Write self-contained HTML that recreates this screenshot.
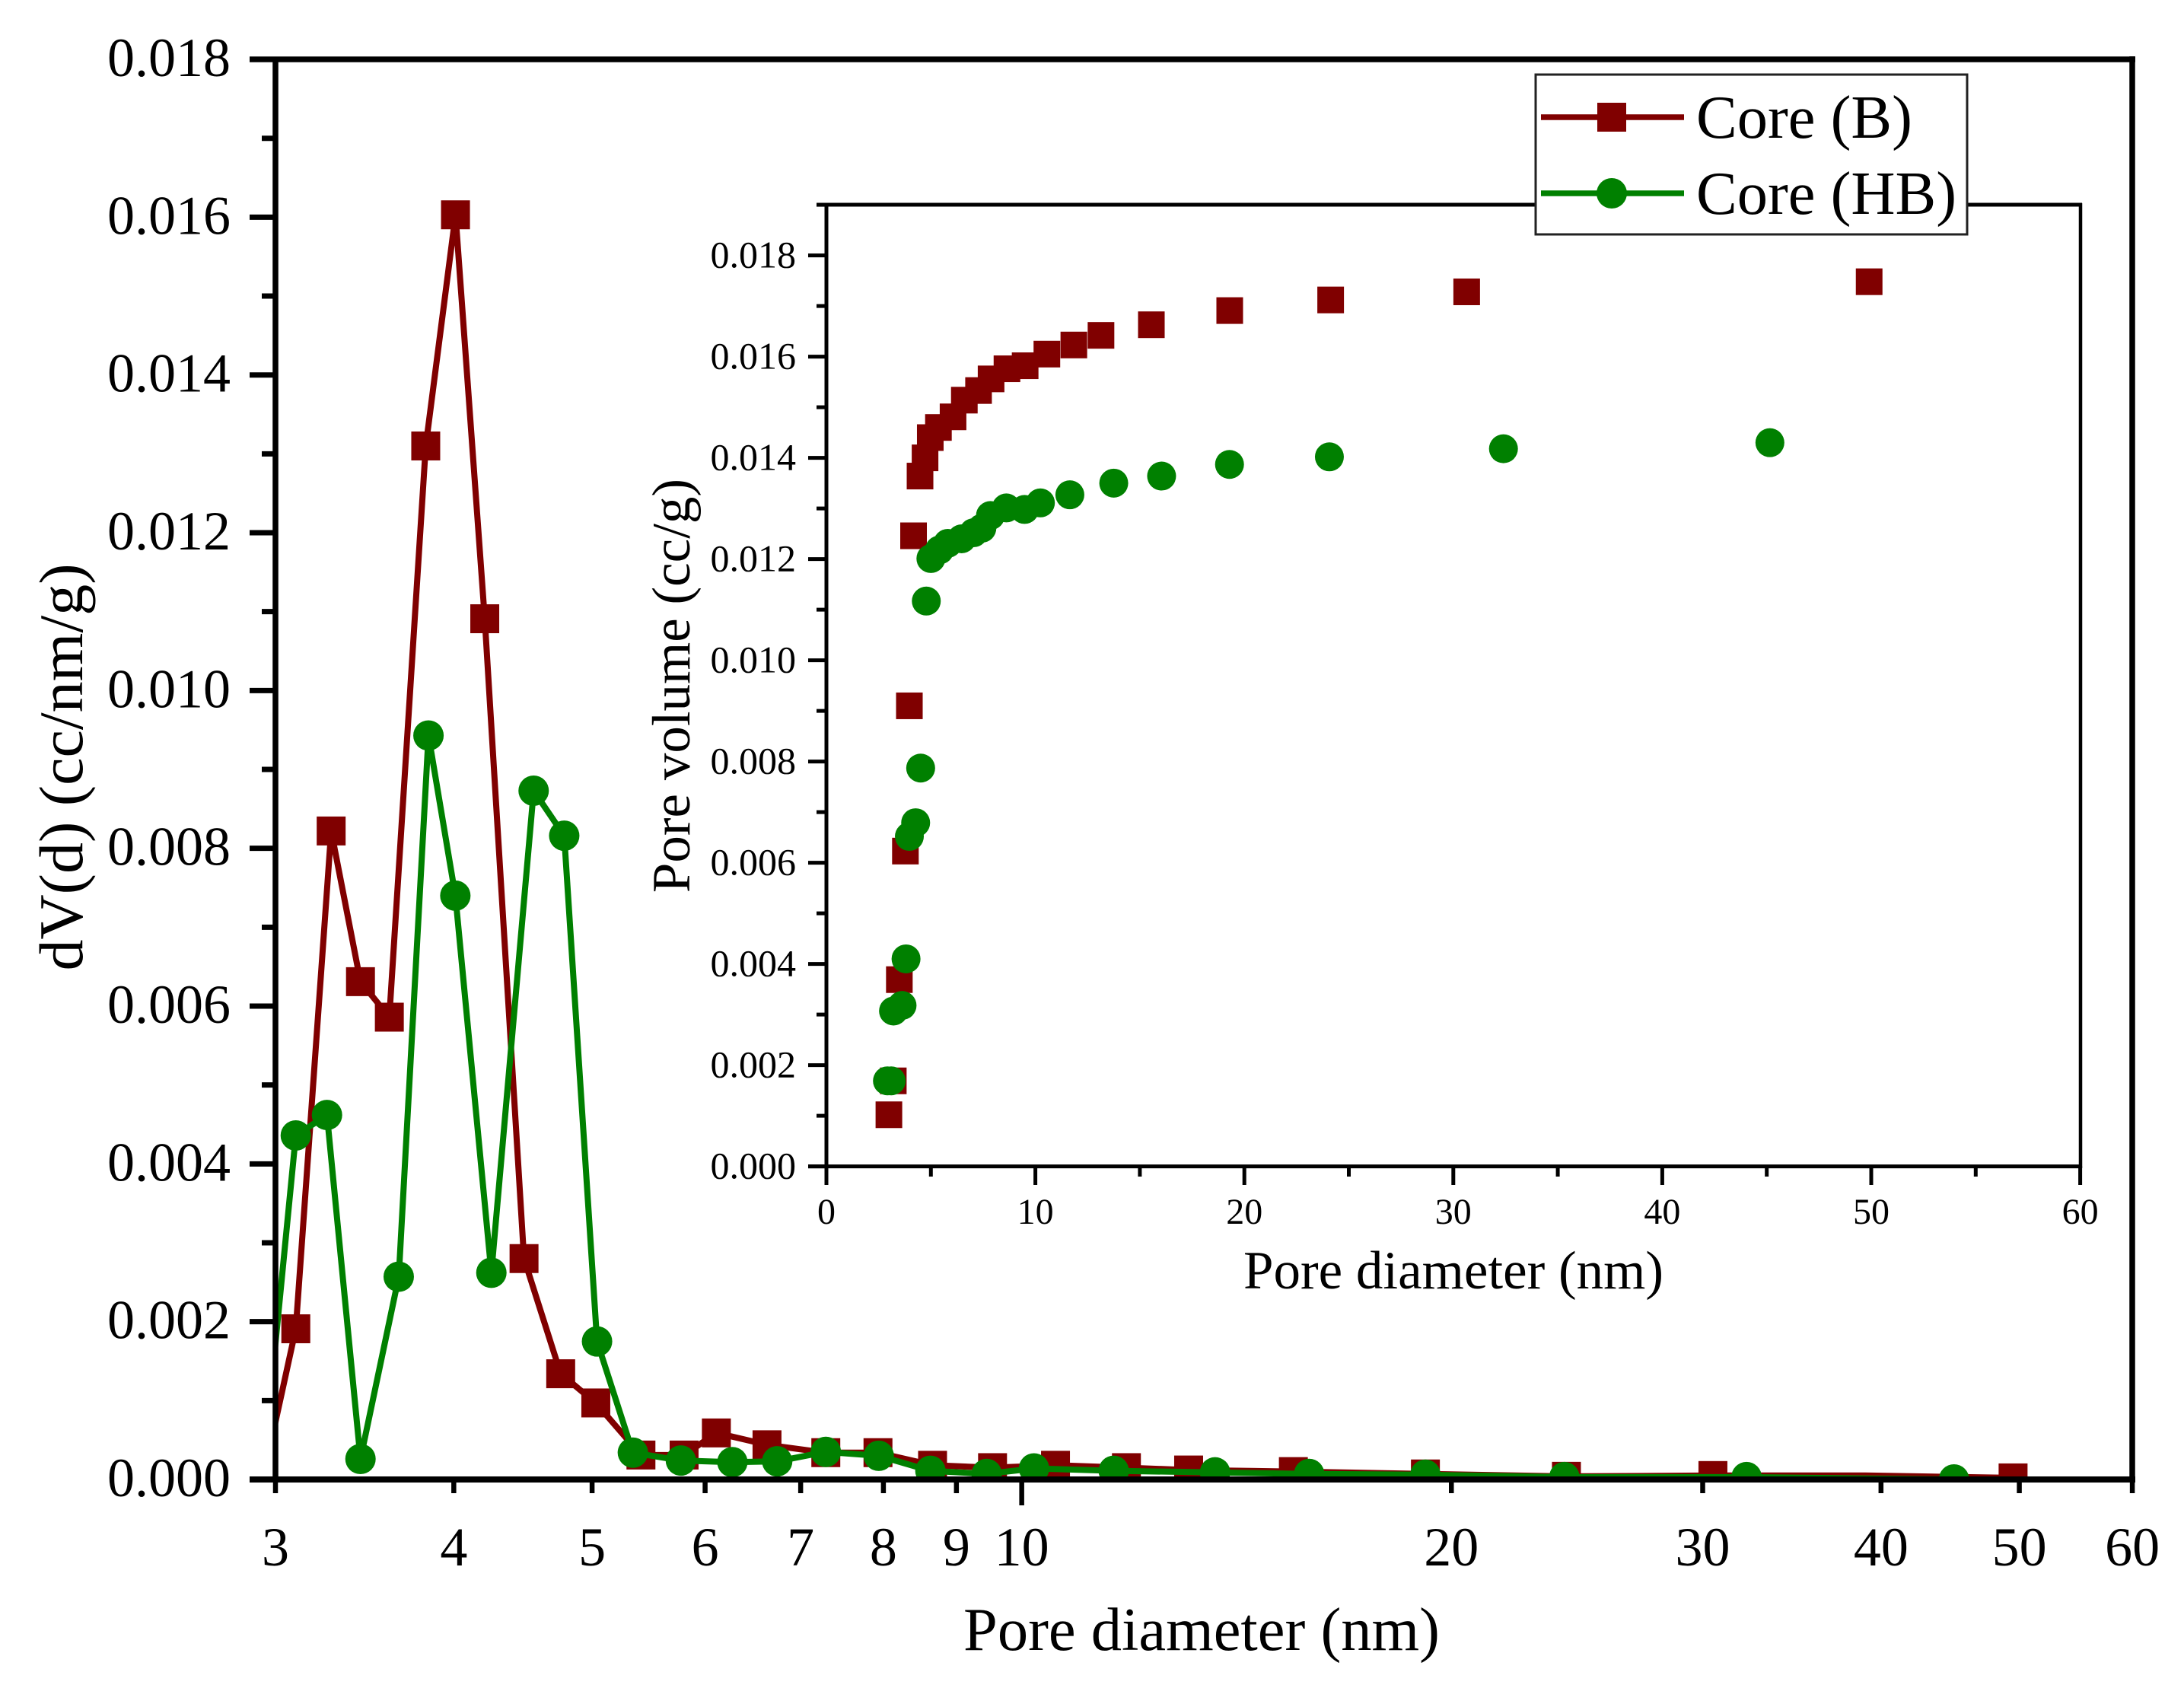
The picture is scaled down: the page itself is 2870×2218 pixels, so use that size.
<!DOCTYPE html>
<html lang="en">
<head>
<meta charset="utf-8">
<title>Pore size distribution chart</title>
<style>
html,body{margin:0;padding:0;background:#fff;}
svg{display:block;}
text{font-family:"Liberation Serif",serif;fill:#000;}
</style>
</head>
<body>
<svg id="chart" xmlns="http://www.w3.org/2000/svg" width="2870" height="2218" viewBox="0 0 2870 2218">
  <rect x="0" y="0" width="2870" height="2218" fill="#fff"/>
  <defs>
    <clipPath id="main-clip"><rect x="362" y="78" width="2440" height="1866"/></clipPath>
    <clipPath id="inset-clip"><rect x="1086" y="269" width="1648" height="1264"/></clipPath>
  </defs>
  <g id="main-series" clip-path="url(#main-clip)"></g>
  <g id="main-axes"></g>
  <text x="1579" y="2168" font-size="80.5" text-anchor="middle">Pore diameter (nm)</text>
  <text transform="translate(108 1008) rotate(-90)" font-size="82" text-anchor="middle">dV(d) (cc/nm/g)</text>
  <g id="inset-series" clip-path="url(#inset-clip)"></g>
  <g id="inset-axes"></g>
  <text x="1910" y="1693" font-size="71" text-anchor="middle">Pore diameter (nm)</text>
  <text transform="translate(906 901) rotate(-90)" font-size="71" text-anchor="middle">Pore volume (cc/g)</text>
  <g>
    <rect x="2018" y="98" width="567" height="210" fill="#fff" stroke="#222" stroke-width="3"/>
    <line x1="2025" y1="154" x2="2213" y2="154" stroke="#800000" stroke-width="7.5"/>
    <rect x="2099" y="135" width="38" height="38" fill="#800000"/>
    <text x="2229" y="181" font-size="80.5">Core (B)</text>
    <line x1="2025" y1="254" x2="2213" y2="254" stroke="#008000" stroke-width="7.5"/>
    <circle cx="2118" cy="254" r="20" fill="#008000"/>
    <text x="2229" y="281" font-size="80.5">Core (HB)</text>
  </g>
</svg>
<script>
// Main plot: dV(d) vs pore diameter (log x axis)
const mainXB = [2.94,3.1,3.282,3.441,3.605,3.823,4.011,4.205,4.48,4.753,5.03,5.41,5.8,6.11,6.63,7.29,7.93,8.66,9.54,10.56,11.84,13.09,15.5,19.18,24.08,30.5,39,49.5];
const mainYB = [0,0.00191,0.00822,0.00631,0.00586,0.0131,0.01603,0.01091,0.0028,0.00134,0.00097,0.00031,0.00031,0.00059,0.00044,0.00034,0.00034,0.00018,0.00015,0.00018,0.00015,0.00012,0.0001,0.00007,0.00004,0.00005,0.00005,0.00002];
const mainMarkerSkipB = [39];
const mainXHB = [2.94,3.1,3.26,3.441,3.66,3.84,4.01,4.25,4.55,4.78,5.04,5.34,5.77,6.27,6.74,7.29,7.94,8.63,9.45,10.2,11.6,13.66,15.9,19.18,24,32.2,45];
const mainYHB = [0.0001,0.00436,0.00462,0.00026,0.00257,0.00943,0.0074,0.00262,0.00873,0.00816,0.00175,0.00034,0.00024,0.00022,0.00023,0.00035,0.0003,0.00011,0.00007,0.00014,0.00011,0.00009,0.00007,0.00006,0.00003,0.00003,0];

// Inset: cumulative pore volume vs pore diameter
const insetXB = [2.99,3.2,3.49,3.78,3.97,4.17,4.48,4.72,4.97,5.36,6.06,6.6,7.28,7.88,8.64,9.51,10.55,11.84,13.14,15.55,19.3,24.13,30.64,49.9];
const insetYB = [0.00102,0.00169,0.00369,0.00623,0.0091,0.01246,0.01364,0.014,0.0144,0.0146,0.01481,0.01514,0.01533,0.01556,0.01576,0.01582,0.01605,0.01623,0.01642,0.01663,0.01691,0.01712,0.01728,0.01748];
const insetXHB = [2.92,3.1,3.21,3.62,3.81,3.97,4.27,4.51,4.78,5,5.41,5.81,6.47,7.04,7.44,7.85,8.61,9.48,10.24,11.65,13.75,16.04,19.29,24.07,32.4,45.15];
const insetYHB = [0.00169,0.00169,0.00307,0.00318,0.0041,0.00652,0.00679,0.00787,0.01117,0.01201,0.01218,0.01231,0.0124,0.01252,0.01261,0.01286,0.01301,0.01298,0.01311,0.01327,0.0135,0.01364,0.01387,0.01402,0.01418,0.0143];

// Tick labels
const mainXTicks = [3,4,5,6,7,8,9,10,20,30,40,50,60];
const mainXLong = [10];
const mainYMajor = ["0.000","0.002","0.004","0.006","0.008","0.010","0.012","0.014","0.016","0.018"];
const mainYMinor = [0.001,0.003,0.005,0.007,0.009,0.011,0.013,0.015,0.017];
const insetXMajor = [0,10,20,30,40,50,60];
const insetXMinor = [5,15,25,35,45,55];
const insetYMajor = ["0.000","0.002","0.004","0.006","0.008","0.010","0.012","0.014","0.016","0.018"];
const insetYMinor = [0.001,0.003,0.005,0.007,0.009,0.011,0.013,0.015,0.017,0.019];

const NS = "http://www.w3.org/2000/svg";
const RED = "#800000", GREEN = "#008000";

// Axis functions
function xMain(v){ return 362 + 1875.5 * Math.log10(v / 3); }
function yMain(v){ return 1944 - v * 103665; }
function xInset(v){ return 1086 + v * 27.46; }
function yInset(v){ return 1532.6 - v * 66500; }

function make(tag, attrs, parent){
  const el = document.createElementNS(NS, tag);
  for (const k in attrs) el.setAttribute(k, attrs[k]);
  parent.appendChild(el);
  return el;
}

function tickLine(parent, x1, y1, x2, y2, w, name){
  const el = make("line", {x1, y1, x2, y2, stroke: "#000", "stroke-width": w}, parent);
  
  
  return el;
}

function label(parent, x, y, str, size, anchor, name){
  const el = make("text", {x, y, "font-size": size, "text-anchor": anchor}, parent);
  el.textContent = str;
  
  
  return el;
}

function series(parent, xs, ys, fx, fy, color, shape, size, withLine, prefix, skip){
  if (withLine) {
    const pts = xs.map((v, i) => fx(v).toFixed(1) + "," + fy(ys[i]).toFixed(1)).join(" ");
    const line = make("polyline", {points: pts, fill: "none", stroke: color, "stroke-width": 8, "stroke-linejoin": "round"}, parent);
    
    
  }
  xs.forEach((v, i) => {
    if (skip && skip.includes(v)) return;
    const cx = fx(v), cy = fy(ys[i]);
    let m;
    if (shape === "square") {
      m = make("rect", {x: cx - size / 2, y: cy - size / 2, width: size, height: size, fill: color}, parent);
    } else {
      m = make("circle", {cx, cy, r: size / 2, fill: color}, parent);
    }
    
    
  });
}

const mainSeries = document.getElementById("main-series");
const mainAxes = document.getElementById("main-axes");
const insetSeries = document.getElementById("inset-series");
const insetAxes = document.getElementById("inset-axes");

series(mainSeries, mainXB, mainYB, xMain, yMain, RED, "square", 38, true, "main-core-b", mainMarkerSkipB);
series(mainSeries, mainXHB, mainYHB, xMain, yMain, GREEN, "circle", 40, true, "main-core-hb");
series(insetSeries, insetXB, insetYB, xInset, yInset, RED, "square", 35, false, "inset-core-b");
series(insetSeries, insetXHB, insetYHB, xInset, yInset, GREEN, "circle", 38, false, "inset-core-hb");

// Main axes
mainYMajor.forEach(s => {
  const v = parseFloat(s), y = yMain(v);
  tickLine(mainAxes, 328, y, 362, y, 7, "main-y-major-tick");
  label(mainAxes, 303, y + 22, s, 72, "end", "main-y-tick-label");
});
mainYMinor.forEach(v => {
  tickLine(mainAxes, 344, yMain(v), 362, yMain(v), 7, "main-y-minor-tick");
});
mainXTicks.forEach(v => {
  const x = xMain(v);
  const end = mainXLong.includes(v) ? 1978 : 1962;
  tickLine(mainAxes, x, 1944, x, end, 6.5, "main-x-tick");
  label(mainAxes, x, 2057, String(v), 72, "middle", "main-x-tick-label");
});
tickLine(mainAxes, 362, 75, 362, 1948, 7.5, "main-left-spine");
tickLine(mainAxes, 2802, 74, 2802, 1948, 7.5, "main-right-spine");
tickLine(mainAxes, 328, 78, 2806, 78, 7.5, "main-top-spine");
tickLine(mainAxes, 328, 1944, 2806, 1944, 8, "main-bottom-spine");

// Inset axes
insetYMajor.forEach(s => {
  const v = parseFloat(s), y = yInset(v);
  tickLine(insetAxes, 1062, y, 1086, y, 5, "inset-y-major-tick");
  label(insetAxes, 1046, y + 16, s, 50, "end", "inset-y-tick-label");
});
insetYMinor.forEach(v => {
  tickLine(insetAxes, 1073, yInset(v), 1086, yInset(v), 5, "inset-y-minor-tick");
});
insetXMajor.forEach(v => {
  const x = xInset(v);
  tickLine(insetAxes, x, 1532, x, 1557, 5, "inset-x-major-tick");
  label(insetAxes, x, 1608, String(v), 48, "middle", "inset-x-tick-label");
});
insetXMinor.forEach(v => {
  tickLine(insetAxes, xInset(v), 1532, xInset(v), 1546, 5, "inset-x-minor-tick");
});
tickLine(insetAxes, 1086, 267, 1086, 1535, 5, "inset-left-spine");
tickLine(insetAxes, 2734, 267, 2734, 1535, 4.5, "inset-right-spine");
tickLine(insetAxes, 1073, 269, 2736, 269, 5, "inset-top-spine");
tickLine(insetAxes, 1062, 1532.6, 2736, 1532.6, 5, "inset-bottom-spine");
</script>
</body>
</html>
